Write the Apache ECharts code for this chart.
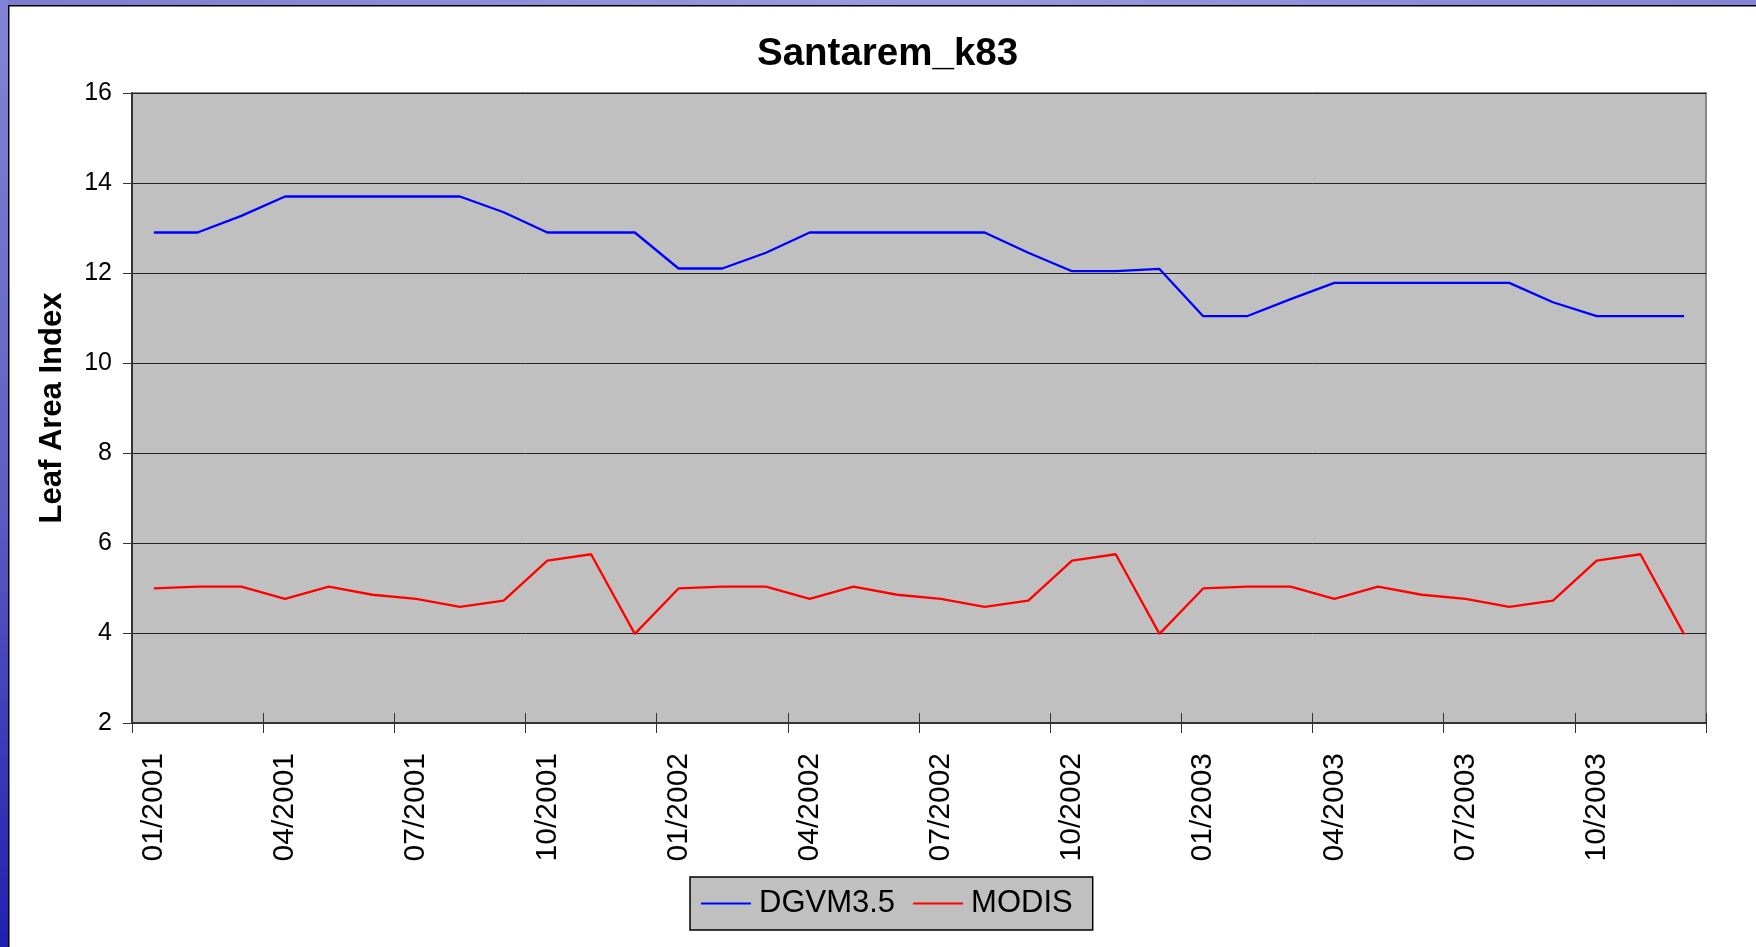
<!DOCTYPE html>
<html>
<head>
<meta charset="utf-8">
<script src="https://cdn.jsdelivr.net/npm/echarts@6/dist/echarts.min.js"></script>
<style>
html,body{margin:0;padding:0;background:#fff;}
#chart{width:1756px;height:947px;}
</style>
</head>
<body>
<div id="chart"></div>
<script>
const months = [
  '01/2001','02/2001','03/2001','04/2001','05/2001','06/2001','07/2001','08/2001','09/2001','10/2001','11/2001','12/2001',
  '01/2002','02/2002','03/2002','04/2002','05/2002','06/2002','07/2002','08/2002','09/2002','10/2002','11/2002','12/2002',
  '01/2003','02/2003','03/2003','04/2003','05/2003','06/2003','07/2003','08/2003','09/2003','10/2003','11/2003','12/2003'
];
const dgvm = [
  12.9,12.9,13.27,13.7,13.7,13.7,13.7,13.7,13.35,12.9,12.9,12.9,
  12.1,12.1,12.45,12.9,12.9,12.9,12.9,12.9,12.45,12.04,12.04,12.09,
  11.04,11.04,11.42,11.78,11.78,11.78,11.78,11.78,11.35,11.04,11.04,11.04
];
const modis = [
  4.99,5.03,5.03,4.76,5.03,4.85,4.76,4.58,4.72,5.61,5.75,3.98,
  4.99,5.03,5.03,4.76,5.03,4.85,4.76,4.58,4.72,5.61,5.75,3.98,
  4.99,5.03,5.03,4.76,5.03,4.85,4.76,4.58,4.72,5.61,5.75,3.97
];
const yTicks = [2,4,6,8,10,12,14,16];
const seriesNames = ['DGVM3.5','MODIS'];

const FONT = "'Liberation Sans', Arial, sans-serif";
const chart = echarts.init(document.getElementById('chart'), null, {renderer:'canvas'});
chart.setOption({
  animation:false,
  backgroundColor:'#ffffff',
  title:{
    text:'Santarem_k83',
    left:752, top:30,
    textStyle:{fontFamily:FONT, fontWeight:'bold', fontSize:38.5, color:'#000'}
  },
  legend:{
    data:seriesNames.map(n => ({name:n, icon:'rect'})),
    left:690, top:877,
    orient:'horizontal',
    backgroundColor:'#C0C0C0',
    borderColor:'#000', borderWidth:1.5,
    padding:[11,20,11,11],
    itemWidth:50, itemHeight:2, itemGap:18,
    textStyle:{fontFamily:FONT, fontSize:31, color:'#000', padding:[0,0,0,3]}
  },
  grid:{
    left:132, right:50, top:93, bottom:224,
    show:true, backgroundColor:'#C0C0C0', borderColor:'#888888', borderWidth:2
  },
  xAxis:[{
    type:'category', data:months, boundaryGap:true, position:'bottom',
    axisLine:{show:true, lineStyle:{color:'#333', width:2}},
    axisTick:{show:true, interval:2, length:10, inside:false, lineStyle:{color:'#333', width:1}},
    axisLabel:{interval:2, rotate:90, margin:30, fontFamily:FONT, fontSize:30, color:'#000'},
    splitLine:{show:false}
  },{
    type:'category', data:months, boundaryGap:true, position:'bottom',
    axisLine:{show:false},
    axisTick:{show:true, interval:2, length:10, inside:true, lineStyle:{color:'#333', width:1}},
    axisLabel:{show:false},
    splitLine:{show:false}
  }],
  yAxis:{
    type:'value', min:yTicks[0], max:yTicks[yTicks.length-1], interval:2,
    name:'Leaf Area Index', nameLocation:'middle', nameRotate:90, nameGap:64,
    nameTextStyle:{fontFamily:FONT, fontWeight:'bold', fontSize:31, color:'#000'},
    axisLine:{show:true, lineStyle:{color:'#333', width:2}},
    axisTick:{show:true, length:9, lineStyle:{color:'#333', width:1}},
    axisLabel:{margin:20, fontFamily:FONT, fontSize:25, color:'#000'},
    splitLine:{show:true, lineStyle:{color:'#222', width:1}}
  },
  series:[
    {name:seriesNames[0], type:'line', data:dgvm, symbol:'none', xAxisIndex:0,
     lineStyle:{color:'#0000FF', width:2.3}, itemStyle:{color:'#0000FF'}},
    {name:seriesNames[1], type:'line', data:modis, symbol:'none', xAxisIndex:0,
     lineStyle:{color:'#FF0000', width:2.3}, itemStyle:{color:'#FF0000'}}
  ],
  graphic:[
    {type:'rect', shape:{x:0,y:0,width:1756,height:5}, z:100,
     style:{fill:new echarts.graphic.LinearGradient(0,0,1,0,[{offset:0,color:'#7c7cd0'},{offset:0.5,color:'#9a9ae0'},{offset:1,color:'#8484d6'}])}},
    {type:'rect', shape:{x:0,y:0,width:8,height:947}, z:100,
     style:{fill:new echarts.graphic.LinearGradient(0,0,0,1,[{offset:0,color:'#8484d6'},{offset:0.5,color:'#6060c4'},{offset:1,color:'#2020b0'}])}},
    {type:'rect', shape:{x:8,y:5,width:1748,height:1.5}, z:101, style:{fill:'#000'}},
    {type:'rect', shape:{x:8,y:5,width:1.5,height:942}, z:101, style:{fill:'#000'}}
  ]
});
</script>
</body>
</html>
